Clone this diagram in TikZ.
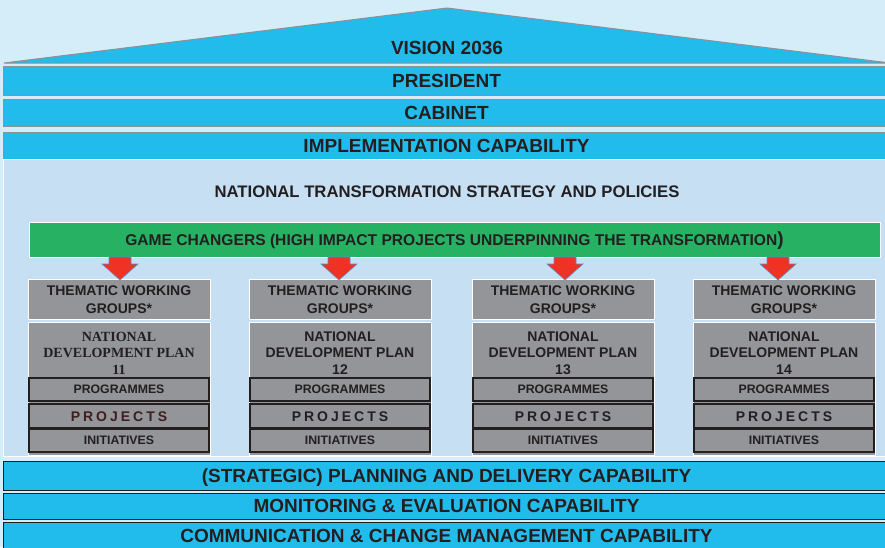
\documentclass[tikz,border=0pt]{standalone}
\usepackage{fontspec}
\setmainfont{Liberation Sans}
\newfontfamily\serifb{Liberation Serif}
\usetikzlibrary{calc}
\definecolor{bgc}{HTML}{D5ECF9}
\definecolor{innerc}{HTML}{C7DFF2}
\definecolor{cyanc}{HTML}{21BCEC}
\definecolor{greenc}{HTML}{27B263}
\definecolor{grayc}{HTML}{939598}
\definecolor{txt}{HTML}{231F20}
\definecolor{redc}{HTML}{EE3224}
\definecolor{arrowblue}{HTML}{5B8FC9}
\definecolor{edgegray}{HTML}{8C9196}
\definecolor{projred}{HTML}{3E1E1E}
\tikzset{
  bigtext/.style={font=\fontsize{19}{22}\selectfont\bfseries, text=txt, text height=13.6pt, text depth=0pt},
  topbar/.style={draw=edgegray, line width=1pt, fill=cyanc, minimum width=887, inner sep=0, outer sep=0, bigtext},
  botbar/.style={draw=txt, line width=1pt, fill=cyanc, minimum width=887, inner sep=0, outer sep=0, bigtext},
  graybox/.style={draw=white, line width=1pt, fill=grayc, minimum width=182, inner sep=0, outer sep=0, text=txt},
  subbox/.style={draw=txt, line width=1.1pt, fill=grayc, minimum width=180, inner sep=0, outer sep=0,
    font=\fontsize{12.3}{14}\selectfont\bfseries, text=txt, text height=8.8pt, text depth=0pt},
  twtext/.style={align=center, font=\fontsize{14}{18}\selectfont\bfseries},
  ndptext/.style={align=center, inner sep=0, text=txt},
  redarrow/.style={draw=arrowblue, line width=0.6pt, fill=redc},
  plain/.style={inner sep=0, text=txt}
}
\begin{document}
\begin{tikzpicture}[x=1pt,y=-1pt]
\useasboundingbox (0,0) rectangle (885,547);
\clip (0,0) rectangle (885,547);
\fill[bgc] (0,0) rectangle (885,547);
% roof
\draw[fill=cyanc, draw=edgegray, line width=1pt] (4,63) -- (447,8) -- (890,63) -- cycle;
\node[plain, bigtext] (vision) at (447,48) {VISION 2036};
% top bars
\node[topbar, minimum height=29] (pres) at (446.5,81) {PRESIDENT};
\node[topbar, minimum height=27] (cab) at (446.5,112.5) {CABINET};
\node[topbar, minimum height=27] (impl) at (446.5,145.5) {IMPLEMENTATION CAPABILITY};
% inner area
\draw[fill=innerc, draw=white, line width=1pt] (3.5,159.5) rectangle (890,456);
\node[plain, font=\fontsize{16.7}{19}\selectfont\bfseries, text height=12pt, text depth=0pt] (nts) at (447,191) {NATIONAL TRANSFORMATION STRATEGY AND POLICIES};
\node[draw=white, line width=1pt, fill=greenc, minimum width=851, minimum height=35, inner sep=0, text=txt,
  font=\fontsize{15.6}{19}\selectfont\bfseries, text height=11.2pt, text depth=0pt] (gc) at (454.5,239.5)
  {GAME CHANGERS (HIGH IMPACT PROJECTS UNDERPINNING THE TRANSFORMATION{\fontsize{19}{19}\selectfont)}};
% columns
\foreach \i/\cx/\ax/\num/\nf/\pc in {1/119/120/11/\serifb/projred, 2/340/339/12/\relax/txt, 3/563/565/13/\relax/txt, 4/784/778/14/\relax/txt}{
  \node[graybox, minimum height=40] (tw\i) at (\cx,299) {};
  \node[twtext, text=txt] (twt\i) at (\cx,300) {THEMATIC WORKING\\GROUPS*};
  \node[graybox, minimum height=133] (ndp\i) at (\cx,388.5) {};
  \node[ndptext, font=\nf\fontsize{14}{16.5}\selectfont\bfseries] (ndpt\i) at (\cx,353) {NATIONAL\\DEVELOPMENT PLAN\\\num};
  \node[subbox, minimum height=23] (prog\i) at (\cx,389.5) {PROGRAMMES};
  \node[subbox, minimum height=24, text=\pc, font=\fontsize{14}{16}\selectfont\bfseries, text height=10pt] (proj\i) at (\cx,416)
    {P\kern3pt R\kern3pt O\kern3pt J\kern3pt E\kern3pt C\kern3pt T\kern3pt S};
  \node[subbox, minimum height=23] (init\i) at (\cx,440.5) {INITIATIVES};
  \coordinate (tip\i) at (\ax,280);
  \draw[redarrow] (tip\i) -- ++(-18,-16) -- ++(7,0) -- ++(0,-7) -- ++(22,0) -- ++(0,7) -- ++(7,0) -- cycle;
}
% bottom bars
\node[botbar, minimum height=29] (plan) at (446.5,475.5) {(STRATEGIC) PLANNING AND DELIVERY CAPABILITY};
\node[botbar, minimum height=26] (me) at (446.5,506) {MONITORING \& EVALUATION CAPABILITY};
\node[botbar, minimum height=28] (comm) at (446.5,536) {COMMUNICATION \& CHANGE MANAGEMENT CAPABILITY};
\end{tikzpicture}
\end{document}
